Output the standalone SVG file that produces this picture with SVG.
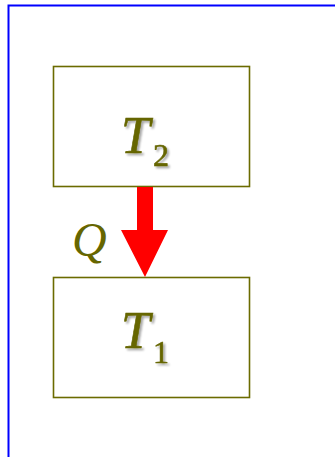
<svg xmlns="http://www.w3.org/2000/svg" width="335" height="457" viewBox="0 0 335 457">
<defs>
<style>
.box{fill:#fff;stroke:#6b6b00;stroke-width:1.6}
.lbl{font-family:"Liberation Serif","Times New Roman",serif;fill:#666600;stroke:#666600;stroke-width:0.6}
.it{font-style:italic}
.sub{font-size:32px;font-style:normal}
.q{stroke:none}
</style>
<filter id="sh" x="-20%" y="-20%" width="150%" height="150%">
<feGaussianBlur in="SourceAlpha" stdDeviation="1.2"/>
<feOffset dx="2" dy="2" result="b"/>
<feComponentTransfer><feFuncA type="linear" slope="0.35"/></feComponentTransfer>
<feMerge><feMergeNode/><feMergeNode in="SourceGraphic"/></feMerge>
</filter>
</defs>
<rect width="335" height="457" fill="#fff"/>
<rect x="8.5" y="5.5" width="340" height="470" fill="none" stroke="#0000ff" stroke-width="2"/>
<g id="T2">
<rect class="box" x="53.5" y="66.5" width="196" height="120"/>
<text class="lbl" filter="url(#sh)" y="153"><tspan class="it" x="121" font-size="52">T</tspan><tspan class="sub" x="153" y="166">2</tspan></text>
</g>
<g id="T1">
<rect class="box" x="53.5" y="277.5" width="196" height="120"/>
<text class="lbl" filter="url(#sh)" y="348"><tspan class="it" x="121" font-size="52">T</tspan><tspan class="sub" x="153" y="363">1</tspan></text>
</g>
<g id="connectors">
<polygon points="137,187 153,187 153,230 168,230 145,277 121,230 137,230" fill="#ff0000"/>
<text class="lbl it q" font-size="48" x="72" y="256">Q</text>
</g>
</svg>
